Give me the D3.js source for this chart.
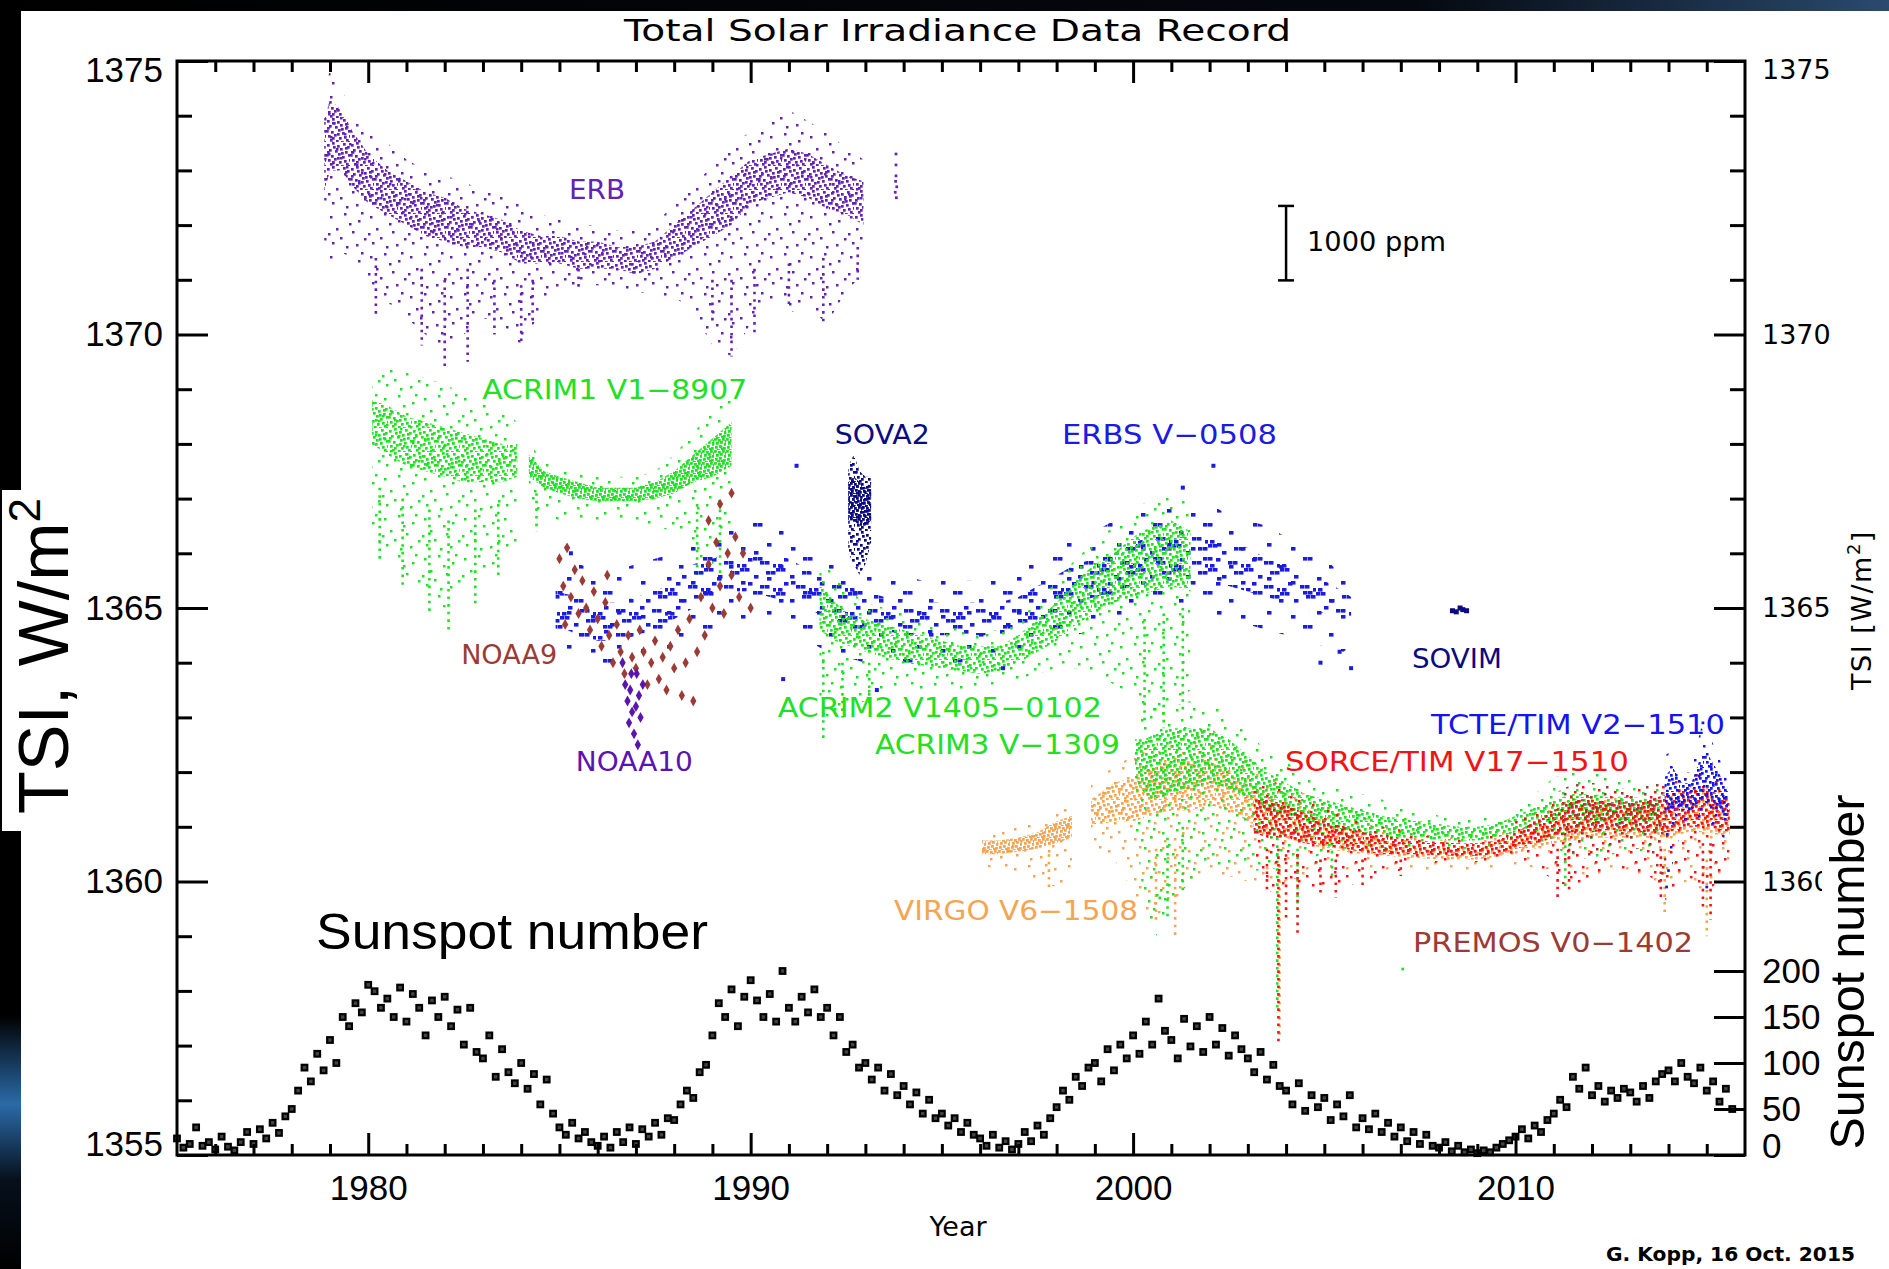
<!DOCTYPE html>
<html>
<head>
<meta charset="utf-8">
<script src="https://cdn.jsdelivr.net/npm/d3@7"></script>
<style>
  body { margin: 0; background: #fff; }
  svg { display: block; }
</style>
</head>
<body>
<div id="chart"></div>
<script>
const W = 1889, H = 1269;

// ---- data ----
// band rows: [year, min, low, high, max]  (TSI, W/m^2)
const erbRows = [
  [1978.85, 1371.4, 1372.6, 1373.9, 1374.2], [1979.0, 1371.3, 1373.0, 1374.3, 1374.9],
  [1979.3, 1371.5, 1373.0, 1374.1, 1374.5], [1979.6, 1371.4, 1372.7, 1373.7, 1374.0],
  [1980.0, 1371.0, 1372.4, 1373.3, 1373.7], [1980.5, 1370.6, 1372.2, 1373.0, 1373.5],
  [1981.0, 1370.3, 1372.0, 1372.8, 1373.2], [1981.5, 1370.0, 1371.8, 1372.6, 1373.0],
  [1982.0, 1369.6, 1371.7, 1372.5, 1372.9], [1982.5, 1370.0, 1371.6, 1372.3, 1372.8],
  [1983.0, 1370.3, 1371.6, 1372.2, 1372.6], [1983.5, 1370.2, 1371.5, 1372.1, 1372.6],
  [1984.0, 1369.8, 1371.3, 1371.9, 1372.4], [1984.5, 1370.4, 1371.3, 1371.8, 1372.2],
  [1985.0, 1370.8, 1371.3, 1371.8, 1372.1], [1985.5, 1370.9, 1371.2, 1371.7, 1372.0],
  [1986.0, 1370.9, 1371.2, 1371.7, 1372.0], [1986.5, 1370.8, 1371.2, 1371.6, 1371.9],
  [1987.0, 1370.8, 1371.1, 1371.6, 1371.9], [1987.5, 1370.7, 1371.2, 1371.7, 1372.0],
  [1988.0, 1370.7, 1371.4, 1372.0, 1372.4], [1988.5, 1370.4, 1371.6, 1372.3, 1372.7],
  [1989.0, 1369.8, 1371.8, 1372.6, 1373.1], [1989.5, 1369.6, 1372.0, 1372.9, 1373.5],
  [1990.0, 1370.2, 1372.4, 1373.2, 1373.7], [1990.5, 1370.6, 1372.5, 1373.3, 1373.9],
  [1991.0, 1370.4, 1372.6, 1373.4, 1374.1], [1991.5, 1370.5, 1372.5, 1373.3, 1373.9],
  [1992.0, 1370.2, 1372.3, 1373.1, 1373.7], [1992.5, 1370.8, 1372.2, 1372.9, 1373.4],
  [1992.95, 1371.1, 1372.0, 1372.8, 1373.2]
];
const erbPoints = [
  [1993.78, 1372.6], [1993.8, 1372.9], [1993.8, 1373.1], [1993.82, 1372.7],
  [1993.79, 1372.8], [1993.81, 1372.5], [1993.8, 1373.3]
];
// streaks: [year, top, bottom]
const erbStreaks = [
  [1980.2, 1371.4, 1370.3], [1981.4, 1371.2, 1369.8], [1982.0, 1371.0, 1369.4],
  [1982.6, 1371.2, 1369.5], [1983.3, 1371.0, 1370.0], [1984.0, 1370.9, 1369.8],
  [1984.3, 1371.0, 1370.2], [1985.5, 1371.2, 1370.8], [1989.0, 1371.0, 1370.2],
  [1989.5, 1371.0, 1369.6], [1990.1, 1371.2, 1370.0], [1991.0, 1371.3, 1370.5],
  [1991.9, 1371.4, 1370.2], [1992.8, 1371.6, 1371.0]
];
const acrim1aRows = [
  [1980.1, 1366.4, 1368.0, 1368.8, 1369.4], [1980.5, 1366.0, 1367.8, 1368.7, 1369.5],
  [1981.0, 1365.6, 1367.6, 1368.5, 1369.3], [1981.5, 1365.2, 1367.5, 1368.4, 1369.2],
  [1982.0, 1365.0, 1367.4, 1368.3, 1369.1], [1982.5, 1365.5, 1367.3, 1368.2, 1368.9],
  [1983.0, 1365.6, 1367.3, 1368.1, 1368.8], [1983.5, 1365.9, 1367.3, 1368.0, 1368.6],
  [1983.9, 1366.2, 1367.4, 1368.0, 1368.4]
];
const acrim1bRows = [
  [1984.2, 1366.8, 1367.4, 1367.8, 1368.0], [1984.6, 1366.7, 1367.2, 1367.5, 1367.7],
  [1985.0, 1366.6, 1367.1, 1367.4, 1367.6], [1985.5, 1366.6, 1367.0, 1367.3, 1367.5],
  [1986.0, 1366.6, 1366.95, 1367.2, 1367.4], [1986.5, 1366.6, 1366.95, 1367.2, 1367.4],
  [1987.0, 1366.6, 1366.95, 1367.2, 1367.4], [1987.5, 1366.5, 1367.0, 1367.3, 1367.5],
  [1988.0, 1366.4, 1367.1, 1367.5, 1367.8], [1988.5, 1366.0, 1367.3, 1367.8, 1368.2],
  [1989.0, 1365.8, 1367.4, 1368.1, 1368.6], [1989.5, 1366.3, 1367.6, 1368.4, 1369.0]
];
const acrim1Streaks = [
  [1980.3, 1367.2, 1365.9], [1980.9, 1367.0, 1365.4], [1981.6, 1366.8, 1364.9],
  [1982.1, 1366.6, 1364.6], [1982.8, 1366.8, 1365.0], [1983.4, 1366.9, 1365.6],
  [1984.4, 1367.1, 1366.4], [1988.6, 1366.9, 1365.6], [1989.2, 1366.8, 1365.4]
];
const erbsRows = [
  [1984.9, 1364.3, 1364.7, 1365.3, 1365.8], [1985.5, 1364.0, 1364.5, 1365.2, 1365.8],
  [1986.0, 1363.9, 1364.4, 1365.1, 1365.7], [1986.5, 1364.0, 1364.4, 1365.1, 1365.7],
  [1987.0, 1363.9, 1364.5, 1365.2, 1365.8], [1987.5, 1364.1, 1364.6, 1365.3, 1365.9],
  [1988.0, 1364.3, 1364.8, 1365.5, 1366.0], [1988.5, 1364.5, 1365.0, 1365.8, 1366.2],
  [1989.0, 1364.6, 1365.1, 1365.9, 1366.4], [1989.5, 1364.7, 1365.3, 1366.0, 1366.5],
  [1990.0, 1364.8, 1365.3, 1366.1, 1366.6], [1990.5, 1364.7, 1365.2, 1366.0, 1366.7],
  [1991.0, 1364.5, 1365.1, 1365.9, 1366.5], [1991.5, 1364.4, 1365.0, 1365.7, 1366.2],
  [1992.0, 1364.2, 1364.8, 1365.5, 1366.0], [1992.5, 1364.1, 1364.7, 1365.4, 1365.8],
  [1993.0, 1364.0, 1364.6, 1365.3, 1365.7], [1993.5, 1364.0, 1364.6, 1365.2, 1365.6],
  [1994.0, 1364.0, 1364.5, 1365.2, 1365.6], [1994.5, 1364.0, 1364.5, 1365.1, 1365.5],
  [1995.0, 1364.0, 1364.5, 1365.1, 1365.5], [1995.5, 1364.0, 1364.5, 1365.1, 1365.5],
  [1996.0, 1364.1, 1364.5, 1365.1, 1365.5], [1996.5, 1364.1, 1364.5, 1365.1, 1365.6],
  [1997.0, 1364.2, 1364.6, 1365.2, 1365.7], [1997.5, 1364.3, 1364.7, 1365.4, 1365.9],
  [1998.0, 1364.4, 1364.9, 1365.6, 1366.1], [1998.5, 1364.5, 1365.1, 1365.8, 1366.3],
  [1999.0, 1364.6, 1365.2, 1365.9, 1366.4], [1999.5, 1364.8, 1365.3, 1366.0, 1366.6],
  [2000.0, 1364.9, 1365.4, 1366.2, 1366.7], [2000.5, 1365.0, 1365.5, 1366.3, 1366.8],
  [2001.0, 1365.0, 1365.5, 1366.3, 1366.9], [2001.5, 1364.9, 1365.5, 1366.3, 1366.9],
  [2002.0, 1364.9, 1365.4, 1366.3, 1366.9], [2002.5, 1364.8, 1365.4, 1366.2, 1366.7],
  [2003.0, 1364.7, 1365.3, 1366.1, 1366.6], [2003.5, 1364.6, 1365.2, 1365.9, 1366.5],
  [2004.0, 1364.5, 1365.1, 1365.8, 1366.3], [2004.5, 1364.4, 1365.0, 1365.6, 1366.1],
  [2005.0, 1364.3, 1364.9, 1365.5, 1365.9], [2005.5, 1364.2, 1364.8, 1365.3, 1365.6],
  [2005.7, 1364.3, 1364.8, 1365.2, 1365.4]
];
const erbsPoints = [
  [1991.2, 1367.6], [1990.85, 1363.7], [2002.1, 1367.6], [2005.7, 1363.9], [2005.4, 1364.2],
  [1993.3, 1363.5], [1985.3, 1366.0], [2001.3, 1367.2], [1996.6, 1363.9], [2004.9, 1364.0]
];
const sova2Rows = [
  [1992.55, 1366.0, 1366.6, 1367.3, 1367.6], [1992.7, 1365.8, 1366.6, 1367.4, 1367.8],
  [1992.85, 1365.6, 1366.5, 1367.3, 1367.5], [1993.0, 1365.8, 1366.5, 1367.2, 1367.4],
  [1993.15, 1366.2, 1366.6, 1367.3, 1367.4]
];
const acrim2Rows = [
  [1991.8, 1362.7, 1364.6, 1365.5, 1365.9], [1992.2, 1363.0, 1364.4, 1365.1, 1365.6],
  [1992.6, 1363.2, 1364.3, 1364.9, 1365.3], [1993.0, 1363.3, 1364.2, 1364.8, 1365.1],
  [1993.5, 1363.5, 1364.1, 1364.7, 1365.0], [1994.0, 1363.5, 1364.0, 1364.6, 1364.9],
  [1994.5, 1363.5, 1363.95, 1364.5, 1364.8], [1995.0, 1363.5, 1363.9, 1364.4, 1364.7],
  [1995.5, 1363.5, 1363.85, 1364.3, 1364.6], [1996.0, 1363.5, 1363.8, 1364.3, 1364.6],
  [1996.5, 1363.6, 1363.85, 1364.3, 1364.6], [1997.0, 1363.7, 1364.0, 1364.5, 1364.8],
  [1997.5, 1363.8, 1364.2, 1364.8, 1365.1], [1998.0, 1363.9, 1364.4, 1365.1, 1365.5],
  [1998.5, 1363.9, 1364.7, 1365.5, 1365.9], [1999.0, 1363.8, 1364.9, 1365.8, 1366.2],
  [1999.5, 1363.6, 1365.1, 1366.0, 1366.5], [2000.0, 1363.4, 1365.2, 1366.3, 1366.8],
  [2000.5, 1363.0, 1365.3, 1366.5, 1367.0], [2001.0, 1363.2, 1365.4, 1366.6, 1367.1],
  [2001.5, 1363.5, 1365.3, 1366.4, 1366.9]
];
const acrim2Streaks = [
  [1991.9, 1364.2, 1362.6], [1992.4, 1364.0, 1363.0], [1993.1, 1364.0, 1363.2],
  [2000.3, 1364.8, 1362.9], [2000.8, 1364.9, 1362.8], [2001.3, 1365.0, 1363.1]
];
const virgoARows = [
  [1996.05, 1360.3, 1360.5, 1360.75, 1360.9], [1996.5, 1360.2, 1360.5, 1360.75, 1360.9],
  [1997.0, 1360.1, 1360.55, 1360.8, 1361.0], [1997.5, 1360.0, 1360.6, 1360.9, 1361.1],
  [1998.0, 1359.9, 1360.7, 1361.1, 1361.3], [1998.4, 1360.1, 1360.8, 1361.2, 1361.4]
];
const virgoBRows = [
  [1998.9, 1360.6, 1361.0, 1361.5, 1361.8], [1999.5, 1360.4, 1361.1, 1361.8, 1362.1],
  [2000.0, 1359.8, 1361.1, 1361.9, 1362.3], [2000.5, 1359.3, 1361.2, 1362.1, 1362.5],
  [2001.0, 1359.6, 1361.3, 1362.2, 1362.6], [2001.5, 1359.9, 1361.3, 1362.2, 1362.6],
  [2002.0, 1360.1, 1361.4, 1362.2, 1362.6], [2002.5, 1360.1, 1361.3, 1362.0, 1362.4],
  [2003.0, 1360.0, 1361.1, 1361.8, 1362.2], [2003.5, 1359.9, 1360.9, 1361.6, 1362.0],
  [2004.0, 1360.0, 1360.8, 1361.4, 1361.8], [2005.0, 1360.2, 1360.6, 1361.1, 1361.4],
  [2006.0, 1360.2, 1360.5, 1360.9, 1361.2], [2007.0, 1360.2, 1360.45, 1360.7, 1360.9],
  [2008.0, 1360.2, 1360.4, 1360.6, 1360.75], [2009.0, 1360.2, 1360.4, 1360.6, 1360.75],
  [2010.0, 1360.3, 1360.5, 1360.8, 1361.0], [2011.0, 1360.2, 1360.7, 1361.1, 1361.4],
  [2012.0, 1360.1, 1360.8, 1361.3, 1361.6], [2013.0, 1360.2, 1360.8, 1361.3, 1361.6],
  [2014.0, 1359.9, 1360.8, 1361.4, 1361.7], [2014.5, 1360.0, 1360.9, 1361.5, 1361.8],
  [2015.0, 1359.8, 1360.9, 1361.5, 1361.8], [2015.6, 1360.2, 1360.8, 1361.3, 1361.6]
];
const virgoStreaks = [
  [1997.8, 1360.5, 1359.9], [2000.6, 1360.6, 1359.3], [2001.1, 1360.6, 1359.0],
  [2003.83, 1360.3, 1357.2], [2013.9, 1360.6, 1359.4], [2015.0, 1360.4, 1359.0]
];
const acrim3Rows = [
  [2000.05, 1361.0, 1361.9, 1362.6, 1363.0], [2000.3, 1359.5, 1361.6, 1362.6, 1363.1],
  [2000.6, 1359.0, 1361.5, 1362.7, 1363.2], [2001.0, 1359.6, 1361.6, 1362.8, 1363.2],
  [2001.5, 1360.0, 1361.7, 1362.8, 1363.3], [2002.0, 1360.3, 1361.8, 1362.8, 1363.3],
  [2002.5, 1360.3, 1361.7, 1362.6, 1363.0], [2003.0, 1360.2, 1361.5, 1362.3, 1362.7],
  [2003.5, 1360.2, 1361.3, 1362.0, 1362.4], [2004.0, 1360.3, 1361.2, 1361.8, 1362.2],
  [2004.5, 1360.4, 1361.1, 1361.6, 1361.9], [2005.0, 1360.5, 1361.0, 1361.5, 1361.8],
  [2005.5, 1360.6, 1360.95, 1361.4, 1361.7], [2006.0, 1360.6, 1360.9, 1361.3, 1361.6],
  [2006.5, 1360.6, 1360.85, 1361.2, 1361.5], [2007.0, 1360.6, 1360.8, 1361.15, 1361.4],
  [2007.5, 1360.6, 1360.8, 1361.1, 1361.3], [2008.0, 1360.6, 1360.75, 1361.05, 1361.2],
  [2008.5, 1360.6, 1360.75, 1361.0, 1361.15], [2009.0, 1360.6, 1360.75, 1361.0, 1361.15],
  [2009.5, 1360.6, 1360.8, 1361.05, 1361.2], [2010.0, 1360.7, 1360.9, 1361.2, 1361.4],
  [2010.5, 1360.8, 1361.0, 1361.35, 1361.6], [2011.0, 1360.6, 1361.1, 1361.5, 1361.9],
  [2011.5, 1360.5, 1361.15, 1361.6, 1362.0], [2012.0, 1360.4, 1361.1, 1361.6, 1362.0],
  [2012.5, 1360.5, 1361.1, 1361.55, 1361.9], [2013.0, 1360.5, 1361.1, 1361.55, 1361.9],
  [2013.5, 1360.6, 1361.1, 1361.5, 1361.8], [2013.75, 1360.6, 1361.1, 1361.5, 1361.7]
];
const acrim3Streaks = [
  [2000.9, 1360.8, 1359.3], [2001.3, 1361.0, 1359.8], [2003.77, 1360.8, 1357.6],
  [2004.3, 1360.6, 1359.6], [2005.2, 1360.7, 1360.1], [2011.3, 1360.8, 1359.9]
];
const acrim3Points = [[2007.05, 1358.4], [2000.7, 1359.7]];
const sorceRows = [
  [2003.15, 1360.6, 1360.9, 1361.5, 1361.8], [2003.5, 1359.8, 1360.8, 1361.5, 1361.9],
  [2004.0, 1359.9, 1360.8, 1361.4, 1361.7], [2004.5, 1359.8, 1360.7, 1361.25, 1361.5],
  [2005.0, 1359.9, 1360.65, 1361.1, 1361.4], [2005.5, 1359.9, 1360.6, 1361.0, 1361.3],
  [2006.0, 1360.0, 1360.55, 1360.9, 1361.1], [2006.5, 1360.1, 1360.5, 1360.85, 1361.0],
  [2007.0, 1360.2, 1360.5, 1360.8, 1360.95], [2007.5, 1360.3, 1360.5, 1360.75, 1360.85],
  [2008.0, 1360.35, 1360.48, 1360.72, 1360.8], [2008.5, 1360.35, 1360.47, 1360.7, 1360.8],
  [2009.0, 1360.35, 1360.47, 1360.7, 1360.8], [2009.5, 1360.4, 1360.5, 1360.75, 1360.85],
  [2010.0, 1360.4, 1360.6, 1360.9, 1361.1], [2010.5, 1360.3, 1360.7, 1361.1, 1361.3],
  [2011.0, 1360.0, 1360.8, 1361.3, 1361.6], [2011.5, 1359.9, 1360.9, 1361.5, 1361.8],
  [2012.0, 1360.1, 1360.9, 1361.5, 1361.8], [2012.5, 1360.2, 1360.95, 1361.45, 1361.7],
  [2013.0, 1360.2, 1360.9, 1361.45, 1361.7], [2013.5, 1360.1, 1360.9, 1361.5, 1361.8],
  [2014.0, 1359.8, 1360.9, 1361.6, 1361.9], [2014.5, 1360.1, 1361.0, 1361.7, 1362.0],
  [2015.0, 1359.8, 1361.0, 1361.7, 1362.0], [2015.6, 1360.2, 1360.9, 1361.5, 1361.8]
];
const sorceStreaks = [
  [2003.5, 1360.6, 1359.8], [2003.8, 1360.6, 1357.0], [2004.0, 1360.5, 1359.3],
  [2004.3, 1360.5, 1359.0], [2004.9, 1360.4, 1359.8], [2005.3, 1360.4, 1359.7],
  [2006.0, 1360.4, 1359.9], [2007.0, 1360.4, 1360.1], [2011.1, 1360.6, 1359.7],
  [2011.4, 1360.6, 1359.8], [2013.8, 1360.6, 1359.7], [2014.9, 1360.7, 1359.5],
  [2015.1, 1360.7, 1359.3]
];
const premosRows = [
  [2011.2, 1360.6, 1360.9, 1361.4, 1361.7], [2011.7, 1360.4, 1360.95, 1361.5, 1361.8],
  [2012.2, 1360.5, 1361.0, 1361.5, 1361.8], [2012.7, 1360.6, 1361.0, 1361.45, 1361.7],
  [2013.2, 1360.6, 1361.0, 1361.5, 1361.7], [2013.6, 1360.4, 1361.0, 1361.5, 1361.8],
  [2013.95, 1359.6, 1361.0, 1361.5, 1361.8]
];
const tcteRows = [
  [2013.9, 1360.8, 1361.2, 1361.9, 1362.3], [2014.1, 1360.3, 1361.3, 1362.1, 1362.4],
  [2014.35, 1361.0, 1361.3, 1361.8, 1362.0], [2014.6, 1361.0, 1361.3, 1361.8, 1362.1],
  [2014.85, 1361.1, 1361.5, 1362.3, 1362.8], [2015.05, 1361.1, 1361.4, 1362.3, 1362.7],
  [2015.3, 1360.9, 1361.3, 1362.0, 1362.3], [2015.55, 1360.7, 1361.1, 1361.7, 1361.9]
];
const tctePoints = [[2013.95, 1359.9], [2014.0, 1360.2], [2015.0, 1359.9], [2014.9, 1362.9]];
const sovimPoints = [[2008.35, 1364.95], [2008.45, 1364.93], [2008.55, 1365.0], [2008.62, 1364.97], [2008.72, 1364.95]];
const noaa9Points = [
  [1985.0, 1365.9], [1985.1, 1365.4], [1985.2, 1366.1], [1985.3, 1365.2], [1985.4, 1365.7],
  [1985.5, 1364.9], [1985.6, 1365.5], [1985.7, 1365.0], [1985.8, 1364.6], [1985.9, 1365.3],
  [1986.0, 1364.8], [1986.1, 1364.3], [1986.2, 1365.1], [1986.3, 1364.5], [1986.4, 1364.0],
  [1986.5, 1364.7], [1986.6, 1364.2], [1986.7, 1363.8], [1986.8, 1364.5], [1986.9, 1364.1],
  [1987.0, 1363.9], [1987.1, 1364.6], [1987.2, 1364.2], [1987.3, 1363.6], [1987.4, 1364.0],
  [1987.5, 1364.4], [1987.6, 1363.7], [1987.7, 1364.1], [1987.8, 1363.5], [1987.9, 1364.3],
  [1988.0, 1363.9], [1988.1, 1364.6], [1988.2, 1363.4], [1988.3, 1364.0], [1988.4, 1364.8],
  [1988.5, 1363.3], [1988.6, 1364.2], [1988.7, 1365.2], [1988.8, 1364.5], [1988.9, 1365.8],
  [1989.0, 1365.0], [1989.1, 1366.2], [1989.2, 1365.4], [1989.3, 1364.9], [1989.4, 1366.0],
  [1989.5, 1365.6], [1989.6, 1366.3], [1989.7, 1365.2], [1989.8, 1366.0], [1990.0, 1365.0],
  [1988.9, 1366.6], [1989.2, 1366.9], [1989.5, 1367.1], [1985.15, 1364.7], [1986.25, 1365.6]
];
const noaa10Points = [
  [1986.65, 1364.0], [1986.72, 1363.6], [1986.78, 1363.3], [1986.82, 1362.9], [1986.85, 1363.5],
  [1986.9, 1363.1], [1986.95, 1362.7], [1987.0, 1363.2], [1987.02, 1363.8], [1987.08, 1363.4],
  [1987.12, 1363.0], [1987.18, 1363.6], [1986.88, 1363.8], [1987.05, 1362.5]
];

// sunspot number, bi-monthly values from 1975.0
const sunspotStart = 1975.0;
const sunspotPerYear = 6;
const sunspotValues = [
  18, 8, 12, 30, 10, 14,   6, 20, 9, 5, 14, 25,   12, 28, 18, 35, 24, 42,
  50, 70, 95, 80, 110, 92,   125, 100, 150, 140, 165, 155,   185, 178, 160, 170, 150, 182,
  145, 175, 160, 130, 168, 150,   172, 140, 158, 120, 160, 112,   105, 130, 85, 115, 90, 78,
  100, 72, 88, 55, 82, 45,   30, 22, 35, 18, 25, 14,   10, 20, 8, 25, 14, 30,
  12, 28, 20, 35, 22, 40,   38, 55, 70, 62, 90, 98,   130, 165, 150, 180, 140, 172,
  190, 168, 150, 175, 145, 200,   160, 145, 172, 155, 180, 150,   160, 130, 150, 112, 120, 95,
  100, 82, 95, 70, 88, 65,   75, 55, 68, 45, 60, 40,   45, 32, 40, 25, 35, 22,
  18, 10, 22, 8, 15, 6,   12, 25, 15, 32, 22, 40,   52, 70, 60, 85, 75, 95,
  100, 80, 115, 92, 120, 105,   130, 110, 145, 120, 170, 135,   125, 105, 148, 118, 140, 112,
  150, 120, 138, 108, 130, 115,   105, 90, 112, 82, 98, 75,   70, 55, 78, 48, 65, 52,
  62, 38, 55, 42, 65, 30,   40, 28, 45, 25, 35, 20,   30, 15, 25, 12, 22, 10,
  8, 14, 4, 10, 3, 6,   2, 5, 3, 8, 12, 16,   20, 28, 18, 32, 25, 38,
  45, 60, 52, 85, 72, 95,   65, 75, 58, 70, 62, 72,   68, 58, 75, 62, 80, 88,
  92, 80, 100, 85, 78, 95,   70, 80, 58, 72, 50
];

// axis ticks
const tsiMajor = [1355, 1360, 1365, 1370, 1375];
const tsiMinor = d3.range(1356, 1375).filter(v => v % 5 !== 0);
const tsiRightMajor = [1360, 1365, 1370, 1375];
const tsiRightMinor = d3.range(1361, 1375).filter(v => v % 5 !== 0);
const spotTicks = [0, 50, 100, 150, 200];
const yearMajor = [1980, 1990, 2000, 2010];
const yearMinor = d3.range(1976, 2016).filter(v => v % 10 !== 0);

// series labels: [text, year, tsi, colour, width]
const seriesLabels = [
  ["ERB", 1985.25, 1372.48, "#6421b3", 56],
  ["ACRIM1 V1\u22128907", 1982.98, 1368.82, "#22e022", 265],
  ["SOVA2", 1992.2, 1368.0, "#0b0b80", 95],
  ["ERBS V\u22120508", 1998.14, 1368.0, "#1c1ce0", 215],
  ["NOAA9", 1982.43, 1363.98, "#9c3b35", 96],
  ["NOAA10", 1985.43, 1362.02, "#5a14b0", 117],
  ["SOVIM", 2007.29, 1363.9, "#0b0b80", 90],
  ["ACRIM2 V1405\u22120102", 1990.71, 1363.01, "#22e022", 324],
  ["ACRIM3 V\u22121309", 1993.25, 1362.33, "#22e022", 245],
  ["TCTE/TIM V2\u22121510", 2007.79, 1362.70, "#1414f0", 294],
  ["SORCE/TIM V17\u22121510", 2003.97, 1362.02, "#f01414", 344],
  ["VIRGO V6\u22121508", 1993.75, 1359.3, "#f5a552", 244],
  ["PREMOS V0\u22121402", 2007.32, 1358.71, "#9c3b35", 280]
];

// ---- drawing ----
const svg = d3.select("#chart").append("svg").attr("width", W).attr("height", H);
svg.append("rect").attr("width", W).attr("height", H).attr("fill", "#fff");
const defs = svg.append("defs");

const x = d3.scaleLinear().domain([1975, 2016]).range([177, 1745]);
const y = d3.scaleLinear().domain([1355, 1375]).range([1155, 61]);
const ySpot = d3.scaleLinear().domain([0, 200]).range([1155, 971]);

const axisFont = "'Liberation Sans Narrow','Liberation Sans',Arial,sans-serif";
const hershey = "'DejaVu Sans',sans-serif";

// slide background bits
const topGrad = defs.append("linearGradient").attr("id", "topGrad");
topGrad.append("stop").attr("offset", "0%").attr("stop-color", "#000");
topGrad.append("stop").attr("offset", "75%").attr("stop-color", "#05080f");
topGrad.append("stop").attr("offset", "100%").attr("stop-color", "#2a4a6e");
svg.append("rect").attr("x", 0).attr("y", 0).attr("width", W).attr("height", 11).attr("fill", "url(#topGrad)");
const leftGrad = defs.append("linearGradient").attr("id", "leftGrad")
  .attr("x1", 0).attr("y1", 0).attr("x2", 0).attr("y2", 1);
leftGrad.append("stop").attr("offset", "0%").attr("stop-color", "#000");
leftGrad.append("stop").attr("offset", "80%").attr("stop-color", "#000");
leftGrad.append("stop").attr("offset", "87%").attr("stop-color", "#2b6aa8");
leftGrad.append("stop").attr("offset", "93%").attr("stop-color", "#06101c");
leftGrad.append("stop").attr("offset", "100%").attr("stop-color", "#000");
svg.append("rect").attr("x", 0).attr("y", 0).attr("width", 21).attr("height", H).attr("fill", "url(#leftGrad)");

// dot patterns give the look of the dense daily scatter
const tiles = {
  dense: { w: 24, h: 24, dot: [2.7, 2.7], pts: [
    [1,2],[6,0],[11,3],[17,1],[21,4],[3,7],[9,8],[14,6],[19,9],[0,12],[5,13],[12,11],[16,14],
    [22,12],[2,17],[8,16],[13,19],[18,18],[23,17],[4,21],[10,22],[15,23],[20,21],[7,4],[15,10],
    [1,9],[11,15],[19,5],[6,19],[22,23]] },
  sparse: { w: 40, h: 40, dot: [2.5, 2.5], pts: [
    [3,5],[17,2],[31,9],[9,17],[25,20],[37,27],[5,31],[19,35],[29,33],[13,26],[34,1],[22,12],[1,22]] },
  solid: { w: 12, h: 12, dot: [2.8, 2.8], pts: [
    [0,0],[4,1],[8,0],[2,4],[6,3],[10,5],[1,8],[5,7],[9,9],[3,11],[7,10],[11,2]] },
  boxes: { w: 36, h: 24, dot: [4.5, 3.6], pts: [
    [0,0],[5,0],[14,7],[26,3],[31,3],[8,14],[20,17],[25,17],[33,20],[2,20]] },
  boxesSparse: { w: 50, h: 34, dot: [4.5, 3.6], pts: [[4,4],[9,4],[30,12],[18,24],[42,28]] }
};
let patCount = 0;
function pattern(color, kind) {
  const t = tiles[kind];
  const id = "pat" + (patCount++);
  const p = defs.append("pattern").attr("id", id).attr("patternUnits", "userSpaceOnUse")
    .attr("x", (patCount * 7) % t.w).attr("y", (patCount * 11) % t.h)
    .attr("width", t.w).attr("height", t.h);
  t.pts.forEach(d => p.append("rect").attr("x", d[0]).attr("y", d[1])
    .attr("width", t.dot[0]).attr("height", t.dot[1]).attr("fill", color));
  return "url(#" + id + ")";
}

const green = "#22e022", orange = "#f5a552", red = "#f01414", purple = "#6421b3";
const bands = [
  { rows: erbRows, color: purple, core: "dense", halo: "sparse", streaks: erbStreaks },
  { rows: acrim1aRows, color: green, core: "dense", halo: "sparse", streaks: acrim1Streaks },
  { rows: acrim1bRows, color: green, core: "solid", halo: "sparse" },
  { rows: erbsRows, color: "#1c1ce0", core: "boxes", halo: "boxesSparse" },
  { rows: sova2Rows, color: "#0b0b80", core: "solid", halo: "dense" },
  { rows: acrim2Rows, color: green, core: "dense", halo: "sparse", streaks: acrim2Streaks },
  { rows: virgoARows, color: orange, core: "solid", halo: "sparse" },
  { rows: virgoBRows, color: orange, core: "dense", halo: "sparse", streaks: virgoStreaks },
  { rows: acrim3Rows, color: green, core: "dense", halo: "sparse", streaks: acrim3Streaks },
  { rows: sorceRows, color: red, core: "dense", halo: "sparse", streaks: sorceStreaks },
  { rows: premosRows, color: "#9c3b35", core: "sparse", halo: "sparse" },
  { rows: tcteRows, color: "#1414f0", core: "dense", halo: "sparse" }
];
const dots = [
  { pts: erbPoints, color: purple, size: 2.7 },
  { pts: erbsPoints, color: "#1c1ce0", size: 4 },
  { pts: acrim3Points, color: green, size: 2.7 },
  { pts: tctePoints, color: "#1414f0", size: 2.7 },
  { pts: sovimPoints, color: "#0b0b80", size: 5 }
];

const haloArea = d3.area().x(d => x(d[0])).y0(d => y(d[1])).y1(d => y(d[4]));
const coreArea = d3.area().x(d => x(d[0])).y0(d => y(d[2])).y1(d => y(d[3]));
const dataG = svg.append("g");

bands.forEach(b => {
  dataG.append("path").attr("d", haloArea(b.rows)).attr("fill", pattern(b.color, b.halo));
  dataG.append("path").attr("d", coreArea(b.rows)).attr("fill", pattern(b.color, b.core));
  if (b.streaks) {
    dataG.append("g").selectAll("line").data(b.streaks).enter().append("line")
      .attr("x1", d => x(d[0])).attr("x2", d => x(d[0]))
      .attr("y1", d => y(d[1])).attr("y2", d => y(d[2]))
      .attr("stroke", b.color).attr("stroke-width", 2.6).attr("stroke-dasharray", "2.6,5");
  }
});

dots.forEach(s => {
  dataG.append("g").selectAll("rect").data(s.pts).enter().append("rect")
    .attr("x", d => x(d[0]) - s.size / 2).attr("y", d => y(d[1]) - s.size / 2)
    .attr("width", s.size).attr("height", s.size).attr("fill", s.color);
});

const diamond = d3.symbol().type(d3.symbolDiamond).size(34);
dataG.append("g").selectAll("path").data(noaa9Points).enter().append("path")
  .attr("d", diamond).attr("transform", d => `translate(${x(d[0])},${y(d[1])})`).attr("fill", "#9c3b35");
dataG.append("g").selectAll("path").data(noaa10Points).enter().append("path")
  .attr("d", diamond).attr("transform", d => `translate(${x(d[0])},${y(d[1])})`).attr("fill", "#5a14b0");

// sunspot squares
dataG.append("g").selectAll("rect").data(sunspotValues).enter().append("rect")
  .attr("x", (d, i) => x(sunspotStart + i / sunspotPerYear) - 2.8)
  .attr("y", d => ySpot(d) - 2.8)
  .attr("width", 5.6).attr("height", 5.6)
  .attr("fill", "#444").attr("stroke", "#000").attr("stroke-width", 2.2);

// ---- axes ----
function clean(g) {
  g.select(".domain").remove();
  g.selectAll(".tick line").attr("stroke", "#000").attr("stroke-width", 3);
  g.selectAll("text").attr("fill", "#000");
}
const L = x.range()[0], R = x.range()[1], T = y.range()[1], B = y.range()[0];

svg.append("g").attr("transform", `translate(${L},0)`)
  .call(d3.axisLeft(y).tickValues(tsiMajor).tickSize(-31).tickPadding(14).tickFormat(d3.format("d")))
  .call(clean)
  .call(g => g.selectAll("text").attr("font-family", axisFont).attr("font-size", 35)
    .attr("y", d => d === 1375 ? 9 : d === 1355 ? -11 : 0));
svg.append("g").attr("transform", `translate(${L},0)`)
  .call(d3.axisLeft(y).tickValues(tsiMinor).tickSize(-15).tickFormat(""))
  .call(clean);

svg.append("g").attr("transform", `translate(${R},0)`)
  .call(d3.axisRight(y).tickValues(tsiRightMajor).tickSize(-31).tickPadding(17).tickFormat(d3.format("d")))
  .call(clean)
  .call(g => g.selectAll("text").attr("font-family", hershey).attr("font-size", 27)
    .attr("y", d => d === 1375 ? 9 : 0));
svg.append("g").attr("transform", `translate(${R},0)`)
  .call(d3.axisRight(y).tickValues(tsiRightMinor).tickSize(-15).tickFormat(""))
  .call(clean);
svg.append("g").attr("transform", `translate(${R},0)`)
  .call(d3.axisRight(ySpot).tickValues(spotTicks).tickSize(-31).tickPadding(17).tickFormat(d3.format("d")))
  .call(clean)
  .call(g => g.selectAll("text").attr("font-family", axisFont).attr("font-size", 35)
    .attr("y", d => d === 0 ? -9 : 0));

svg.append("g").attr("transform", `translate(0,${B})`)
  .call(d3.axisBottom(x).tickValues(yearMajor).tickSize(-22).tickPadding(20).tickFormat(d3.format("d")))
  .call(clean)
  .call(g => g.selectAll("text").attr("font-family", axisFont).attr("font-size", 35));
svg.append("g").attr("transform", `translate(0,${B})`)
  .call(d3.axisBottom(x).tickValues(yearMinor).tickSize(-11).tickFormat(""))
  .call(clean);
svg.append("g").attr("transform", `translate(0,${T})`)
  .call(d3.axisTop(x).tickValues(yearMajor).tickSize(-22).tickFormat(""))
  .call(clean);
svg.append("g").attr("transform", `translate(0,${T})`)
  .call(d3.axisTop(x).tickValues(yearMinor).tickSize(-11).tickFormat(""))
  .call(clean);

svg.append("rect").attr("x", L).attr("y", T).attr("width", R - L).attr("height", B - T)
  .attr("fill", "none").attr("stroke", "#000").attr("stroke-width", 3);

// ---- texts ----
svg.append("text").attr("x", 624).attr("y", 41).attr("font-family", hershey).attr("font-size", 31)
  .attr("textLength", 667).attr("lengthAdjust", "spacingAndGlyphs").text("Total Solar Irradiance Data Record");

svg.append("g").selectAll("text").data(seriesLabels).enter().append("text")
  .attr("x", d => x(d[1])).attr("y", d => y(d[2]))
  .attr("font-family", hershey).attr("font-size", 27).attr("fill", d => d[3])
  .attr("textLength", d => d[4]).attr("lengthAdjust", "spacingAndGlyphs")
  .text(d => d[0]);

// 1000 ppm scale bar
const ppmMid = 1371.67, ppmHalf = 1361 * 1000e-6 / 2, ppmYear = 2004.0;
const bar = svg.append("g").attr("stroke", "#000").attr("stroke-width", 2.5);
bar.append("line").attr("x1", x(ppmYear)).attr("x2", x(ppmYear)).attr("y1", y(ppmMid + ppmHalf)).attr("y2", y(ppmMid - ppmHalf));
bar.append("line").attr("x1", x(ppmYear) - 8).attr("x2", x(ppmYear) + 8).attr("y1", y(ppmMid + ppmHalf)).attr("y2", y(ppmMid + ppmHalf));
bar.append("line").attr("x1", x(ppmYear) - 8).attr("x2", x(ppmYear) + 8).attr("y1", y(ppmMid - ppmHalf)).attr("y2", y(ppmMid - ppmHalf));
svg.append("text").attr("x", 1307).attr("y", 251).attr("font-family", hershey).attr("font-size", 27)
  .attr("textLength", 139).attr("lengthAdjust", "spacingAndGlyphs").text("1000 ppm");

svg.append("text").attr("x", 316).attr("y", 949).attr("font-family", "'Liberation Sans',Arial,sans-serif")
  .attr("font-size", 50).attr("textLength", 392).attr("lengthAdjust", "spacingAndGlyphs").text("Sunspot number");

svg.append("text").attr("x", 958).attr("y", 1236).attr("text-anchor", "middle")
  .attr("font-family", hershey).attr("font-size", 27).text("Year");
svg.append("text").attr("x", 1606).attr("y", 1261).attr("font-family", hershey).attr("font-weight", "bold")
  .attr("font-size", 20).attr("textLength", 249).attr("lengthAdjust", "spacingAndGlyphs").text("G. Kopp, 16 Oct. 2015");

// left big axis title on a white box
svg.append("rect").attr("x", 2).attr("y", 490).attr("width", 70).attr("height", 341).attr("fill", "#fff");
const lt = svg.append("text").attr("transform", "translate(68,656) rotate(-90)").attr("text-anchor", "middle")
  .attr("font-family", "'Liberation Sans',Arial,sans-serif").attr("font-size", 70).attr("fill", "#000");
lt.append("tspan").text("TSI, W/m");
lt.append("tspan").attr("font-size", 44).attr("dy", -28).text("2");

// right titles
svg.append("rect").attr("x", 1822).attr("y", 785).attr("width", W - 1822).attr("height", 380).attr("fill", "#fff");
svg.append("text").attr("transform", "translate(1864,972) rotate(-90)").attr("text-anchor", "middle")
  .attr("font-family", "'Liberation Sans',Arial,sans-serif").attr("font-size", 48)
  .attr("textLength", 355).attr("lengthAdjust", "spacingAndGlyphs").text("Sunspot number");
const rt = svg.append("text").attr("transform", "translate(1871,610) rotate(-90)").attr("text-anchor", "middle")
  .attr("font-family", hershey).attr("font-size", 27).attr("letter-spacing", 1.5);
rt.append("tspan").text("TSI [W/m");
rt.append("tspan").attr("font-size", 18).attr("dy", -11).text("2");
rt.append("tspan").attr("dy", 11).text("]");
</script>
</body>
</html>
